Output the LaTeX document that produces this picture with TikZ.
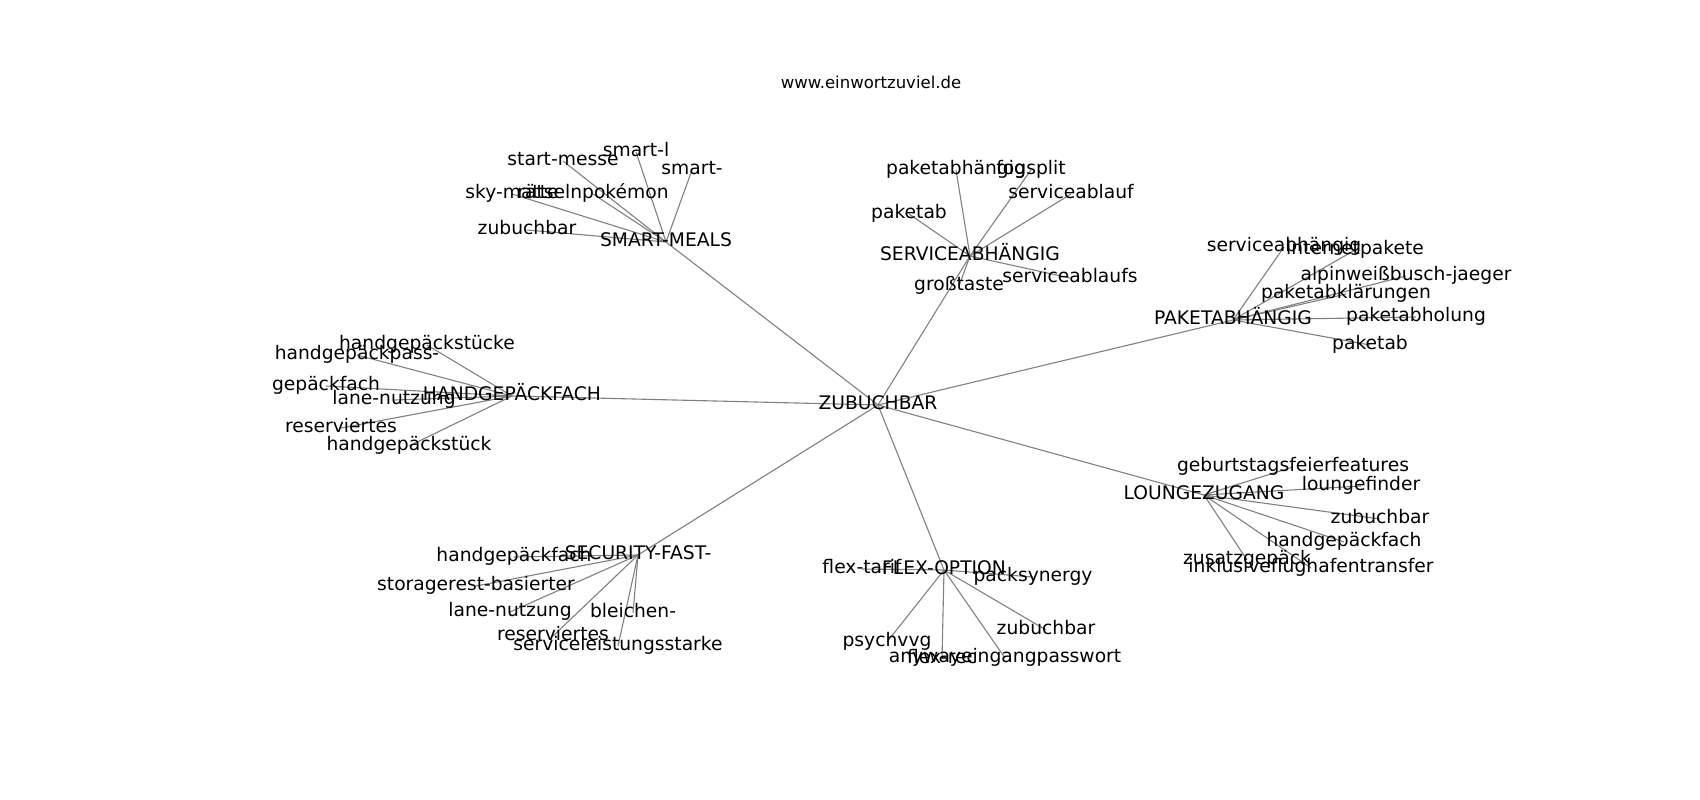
\documentclass[tikz,border=0pt]{standalone}
\usepackage{fontspec}
\setmainfont{DejaVu Sans}
\usetikzlibrary{backgrounds}
\begin{document}
\begin{tikzpicture}[x=1pt,y=-1pt,
  lbl/.style={inner sep=0pt, font=\fontsize{18.7}{22}\selectfont, text height=13.8pt, text depth=4.2pt, anchor=center},
  ttl/.style={inner sep=0pt, font=\fontsize{16.5}{20}\selectfont, anchor=center},
  link/.style={draw=black!50, line width=1.1pt}]
\useasboundingbox (0,0) rectangle (1700,800);
\node[ttl] (title) at (871,82) {www.einwortzuviel.de};
\begin{scope}[shift={(0,3)}]
% hubs
\node[lbl] (c)  at (878,402) {ZUBUCHBAR};
\node[lbl] (sm) at (666,239) {SMART-MEALS};
\node[lbl] (sa) at (970,253) {SERVICEABHÄNGIG};
\node[lbl] (pa) at (1233,317) {PAKETABHÄNGIG};
\node[lbl] (hg) at (512,393) {HANDGEPÄCKFACH};
\node[lbl] (lz) at (1204,492) {LOUNGEZUGANG};
\node[lbl] (sf) at (638,552) {SECURITY-FAST-};
\node[lbl] (fo) at (944,567) {FLEX-OPTION};
% smart-meals leaves
\node[lbl] (sm1) at (563,158) {start-messe};
\node[lbl] (sm2) at (636,149) {smart-l};
\node[lbl] (sm3) at (692,167) {smart-};
\node[lbl] (sm4) at (512,191) {sky-matte};
\node[lbl] (sm5) at (593,191) {rätselnpokémon};
\node[lbl] (sm6) at (527,227) {zubuchbar};
% serviceabhaengig leaves
\node[lbl] (sa1) at (956,167) {paketabhängig};
\node[lbl] (sa2) at (1031,167) {fogsplit};
\node[lbl] (sa3) at (1071,191) {serviceablauf};
\node[lbl] (sa4) at (909,211) {paketab};
\node[lbl] (sa5) at (959,283) {großtaste};
\node[lbl] (sa6) at (1070,275) {serviceablaufs};
% paketabhaengig leaves
\node[lbl] (pa1) at (1284,244) {serviceabhängig};
\node[lbl] (pa2) at (1355,247) {internetpakete};
\node[lbl] (pa3) at (1406,273) {alpinweißbusch-jaeger};
\node[lbl] (pa4) at (1346,291) {paketabklärungen};
\node[lbl] (pa5) at (1416,314) {paketabholung};
\node[lbl] (pa6) at (1370,342) {paketab};
% handgepaeckfach leaves
\node[lbl] (hg1) at (427,342) {handgepäckstücke};
\node[lbl] (hg2) at (357,352) {handgepäckpass-};
\node[lbl] (hg3) at (326,383) {gepäckfach};
\node[lbl] (hg4) at (394,397) {lane-nutzung};
\node[lbl] (hg5) at (341,425) {reserviertes};
\node[lbl] (hg6) at (409,443) {handgepäckstück};
% loungezugang leaves
\node[lbl] (lz1) at (1293,464) {geburtstagsfeierfeatures};
\node[lbl] (lz2) at (1361,483) {loungefinder};
\node[lbl] (lz3) at (1380,516) {zubuchbar};
\node[lbl] (lz4) at (1344,539) {handgepäckfach};
\node[lbl] (lz5) at (1247,557) {zusatzgepäck};
\node[lbl] (lz6) at (1311,565) {inklusiveflughafentransfer};
% security-fast leaves
\node[lbl] (sf1) at (514,554) {handgepäckfach};
\node[lbl] (sf2) at (476,583) {storagerest-basierter};
\node[lbl] (sf3) at (510,609) {lane-nutzung};
\node[lbl] (sf4) at (633,610) {bleichen-};
\node[lbl] (sf5) at (553,633) {reserviertes};
\node[lbl] (sf6) at (618,643) {serviceleistungsstarke};
% flex-option leaves
\node[lbl] (fo1) at (862,566) {flex-tarif};
\node[lbl] (fo2) at (1033,574) {packsynergy};
\node[lbl] (fo3) at (1046,627) {zubuchbar};
\node[lbl] (fo4) at (887,639) {psychvvg};
\node[lbl] (fo5) at (1005,655) {anywayeingangpasswort};
\node[lbl] (fo6) at (942,656) {flex-rec};
\end{scope}
\begin{pgfonlayer}{background}
\foreach \h in {sm,sa,pa,hg,lz,sf,fo}{
  \draw[link] (c.center) -- (\h.center);
  \foreach \i in {1,...,6}{
    \draw[link] (\h.center) -- (\h\i.center);
  }
}
\end{pgfonlayer}
\end{tikzpicture}
\end{document}
